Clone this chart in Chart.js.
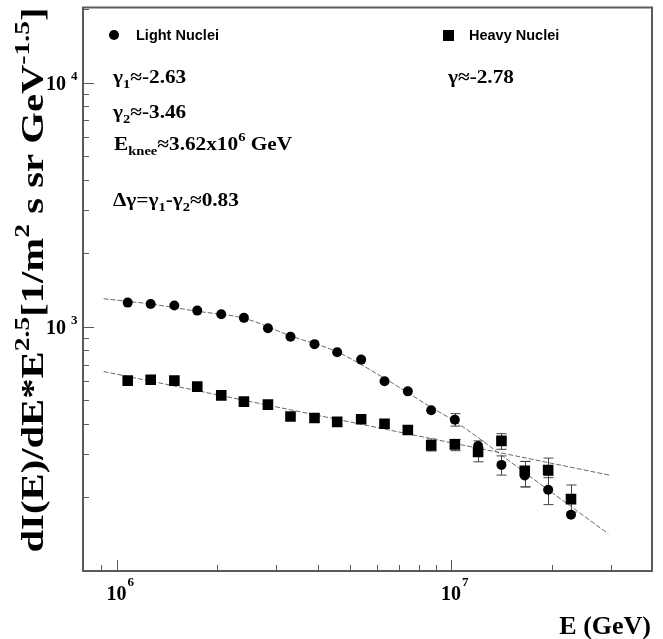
<!DOCTYPE html>
<html>
<head>
<meta charset="utf-8">
<script src="https://cdn.jsdelivr.net/npm/chart.js"></script>
<style>
  body { margin: 0; background: #fff; }
  #wrap { width: 663px; height: 639px; }
</style>
</head>
<body>
<div id="wrap"><canvas id="myChart"></canvas></div>
<script>
// ---- data ----
var energy = [1.08e6, 1.265e6, 1.489e6, 1.743e6, 2.056e6, 2.403e6, 2.835e6, 3.311e6, 3.906e6, 4.566e6,
              5.385e6, 6.324e6, 7.424e6, 8.72e6, 1.026e7, 1.204e7, 1.414e7, 1.66e7, 1.95e7, 2.282e7];
var lightFlux = [1256, 1240, 1223, 1165, 1126, 1088, 986, 911, 849, 786,
                 734, 598, 544, 455, 416, 325, 272, 246, 215, 170];
var heavyFlux = [602, 607, 602, 569, 524, 494, 480, 429, 423, 408,
                 418, 401, 378, 327, 330, 307, 341, 257, 259, 197];
var lightErrLo = [null, null, null, null, null, null, null, null, null, null, null, null, null, null, 392, null, 247, 221, 187, null];
var lightErrHi = [null, null, null, null, null, null, null, null, null, null, null, null, null, null, 441, null, 296, 281, 246, null];
var heavyErrLo = [null, null, null, null, null, null, null, null, null, null, null, null, null, 310, 311, 280, 315, 221, 241, 174];
var heavyErrHi = [null, null, null, null, null, null, null, null, null, null, null, null, null, 347, 346, 341, 365, 281, 290, 225];

// fitted curves
var lightFitE = [9.15e5, 1.262e6, 1.743e6, 2.408e6, 3.304e6, 4.575e6, 6.322e6, 8.697e6, 1.023e7, 1.734e7, 2.95e7];
var lightFitFlux = [1303, 1240, 1158, 1083, 919, 788, 615, 469, 411, 242, 142];
var heavyFitE = [9.15e5, 2.97e7];
var heavyFitFlux = [656, 247];

// axes
var xRange = [7.94e5, 3.985e7];
var yRange = [100, 2.03e4];
var xMajor = [1e6, 1e7];
var xMajorExp = ['6', '7'];
var xMinor = [9e5, 2e6, 3e6, 4e6, 5e6, 6e6, 7e6, 8e6, 9e6, 2e7, 3e7];
var yMajor = [1e3, 1e4];
var yMajorExp = ['3', '4'];
var yMinor = [200, 300, 400, 500, 600, 700, 800, 900, 2000, 3000, 4000, 5000, 6000, 7000, 8000, 9000, 20000];

var serif = '"Liberation Serif", "Times New Roman", serif';
var sans = '"Liberation Sans", Arial, sans-serif';
var axisColor = '#5a5a5a';

function pts(xs, ys) {
  return xs.map(function(x, i) { return { x: x, y: ys[i] }; });
}

// text with super/subscripts: parts = [[text, 'sup'|'sub'|null], ...]
function drawRich(ctx, parts, x, y, size, measureOnly) {
  var start = x;
  parts.forEach(function(p) {
    var fs = p[1] ? Math.round(size * 0.68) : size;
    var dy = p[1] === 'sup' ? -size * 0.45 : (p[1] === 'sub' ? size * 0.28 : 0);
    ctx.font = 'bold ' + fs + 'px ' + serif;
    if (!measureOnly) ctx.fillText(p[0], x, y + dy);
    x += ctx.measureText(p[0]).width;
  });
  return x - start;
}

// same, stretched along the text direction
function drawNote(ctx, parts, x, y, size, stretch) {
  ctx.save();
  ctx.translate(x, y);
  ctx.scale(stretch, 1);
  drawRich(ctx, parts, 0, 0, size);
  ctx.restore();
}

var overlay = {
  id: 'overlay',
  beforeDatasetsDraw: function(chart) {
    var ctx = chart.ctx, xs = chart.scales.x, ys = chart.scales.y;
    ctx.save();
    ctx.strokeStyle = '#444';
    ctx.lineWidth = 1;
    function bars(lo, hi) {
      energy.forEach(function(e, i) {
        if (lo[i] == null) return;
        var px = Math.round(xs.getPixelForValue(e)) + 0.5;
        var y1 = ys.getPixelForValue(lo[i]), y2 = ys.getPixelForValue(hi[i]);
        ctx.beginPath();
        ctx.moveTo(px, y1); ctx.lineTo(px, y2);
        ctx.moveTo(px - 5, y1); ctx.lineTo(px + 5, y1);
        ctx.moveTo(px - 5, y2); ctx.lineTo(px + 5, y2);
        ctx.stroke();
      });
    }
    bars(lightErrLo, lightErrHi);
    bars(heavyErrLo, heavyErrHi);
    ctx.restore();
  },
  afterDraw: function(chart) {
    var ctx = chart.ctx, a = chart.chartArea;
    var xs = chart.scales.x, ys = chart.scales.y;
    ctx.save();

    // frame
    ctx.strokeStyle = axisColor;
    ctx.lineWidth = 2;
    ctx.strokeRect(a.left, a.top, a.right - a.left, a.bottom - a.top);

    // ticks
    ctx.lineWidth = 1;
    ctx.beginPath();
    xMajor.forEach(function(v) {
      var px = Math.round(xs.getPixelForValue(v)) + 0.5;
      ctx.moveTo(px, a.bottom); ctx.lineTo(px, a.bottom - 11);
    });
    xMinor.forEach(function(v) {
      var px = Math.round(xs.getPixelForValue(v)) + 0.5;
      ctx.moveTo(px, a.bottom); ctx.lineTo(px, a.bottom - 6);
    });
    yMajor.forEach(function(v) {
      var py = Math.round(ys.getPixelForValue(v)) + 0.5;
      ctx.moveTo(a.left, py); ctx.lineTo(a.left + 11, py);
    });
    yMinor.forEach(function(v) {
      var py = Math.round(ys.getPixelForValue(v)) + 0.5;
      if (py < a.top + 2) return;
      ctx.moveTo(a.left, py); ctx.lineTo(a.left + 6, py);
    });
    ctx.stroke();

    // tick labels
    ctx.fillStyle = '#000';
    ctx.textBaseline = 'alphabetic';
    xMajor.forEach(function(v, i) {
      var px = xs.getPixelForValue(v);
      ctx.font = 'bold 20px ' + serif;
      ctx.textAlign = 'center';
      ctx.fillText('10', px, 600);
      ctx.font = 'bold 13px ' + serif;
      ctx.textAlign = 'left';
      ctx.fillText(xMajorExp[i], px + 11, 586);
    });
    yMajor.forEach(function(v, i) {
      var py = ys.getPixelForValue(v);
      ctx.font = 'bold 20px ' + serif;
      ctx.textAlign = 'right';
      ctx.fillText('10', 66, py + 7);
      ctx.font = 'bold 13px ' + serif;
      ctx.textAlign = 'left';
      ctx.fillText(yMajorExp[i], 71, py - 3);
    });

    // axis titles
    ctx.font = 'bold 26px ' + serif;
    ctx.textAlign = 'right';
    ctx.fillText('E (GeV)', 651, 634);

    var yTitle = [['dI(E)/dE*E', null], ['2.5', 'sup'], ['[1/m', null], ['2', 'sup'],
                  [' s sr GeV', null], ['-1.5', 'sup'], [']', null]];
    ctx.textAlign = 'left';
    var tSize = 31;
    var w = drawRich(ctx, yTitle, 0, 0, tSize, true);
    var stretch = 545 / w;
    ctx.save();
    ctx.translate(43, 280);
    ctx.rotate(-Math.PI / 2);
    ctx.scale(stretch, 1);
    drawRich(ctx, yTitle, -w / 2, 0, tSize);
    ctx.restore();

    // legend
    ctx.fillStyle = '#000';
    ctx.beginPath();
    ctx.arc(114, 35, 5, 0, Math.PI * 2);
    ctx.fill();
    ctx.fillRect(443, 30, 11, 11);
    ctx.font = 'bold 14.5px ' + sans;
    ctx.fillText('Light Nuclei', 136, 40);
    ctx.fillText('Heavy Nuclei', 469, 40);

    // fit results
    var fs = 19, st = 1.12;
    drawNote(ctx, [['\u03b3', null], ['1', 'sub'], ['\u2248-2.63', null]], 113, 83, fs, st);
    drawNote(ctx, [['\u03b3', null], ['2', 'sub'], ['\u2248-3.46', null]], 113, 118, fs, st);
    drawNote(ctx, [['E', null], ['knee', 'sub'], ['\u22483.62x10', null], ['6', 'sup'], [' GeV', null]], 114, 150, fs, st);
    drawNote(ctx, [['\u0394\u03b3=\u03b3', null], ['1', 'sub'], ['-\u03b3', null], ['2', 'sub'], ['\u22480.83', null]], 113, 206, fs, st);
    drawNote(ctx, [['\u03b3\u2248-2.78', null]], 448, 83, fs, st);

    ctx.restore();
  }
};

var ctx = document.getElementById('myChart').getContext('2d');
new Chart(ctx, {
  type: 'scatter',
  data: {
    datasets: [
      { label: 'Light Nuclei', data: pts(energy, lightFlux), pointStyle: 'circle', pointRadius: 5,
        backgroundColor: '#000', borderColor: '#000', borderWidth: 0, order: 0 },
      { label: 'Heavy Nuclei', data: pts(energy, heavyFlux), pointStyle: 'rect', pointRadius: 7.5,
        backgroundColor: '#000', borderColor: '#000', borderWidth: 0, order: 0 },
      { label: 'light fit', data: pts(lightFitE, lightFitFlux), showLine: true, pointRadius: 0,
        borderColor: '#6a6a6a', borderWidth: 1, borderDash: [5, 2], cubicInterpolationMode: 'monotone', order: 1 },
      { label: 'heavy fit', data: pts(heavyFitE, heavyFitFlux), showLine: true, pointRadius: 0,
        borderColor: '#6a6a6a', borderWidth: 1, borderDash: [5, 2], order: 1 }
    ]
  },
  options: {
    responsive: true,
    maintainAspectRatio: false,
    animation: false,
    layout: { padding: { left: 83, right: 11, top: 3, bottom: 68 } },
    plugins: { legend: { display: false }, tooltip: { enabled: false } },
    scales: {
      x: { type: 'logarithmic', min: xRange[0], max: xRange[1], display: false },
      y: { type: 'logarithmic', min: yRange[0], max: yRange[1], display: false }
    }
  },
  plugins: [overlay]
});
</script>
</body>
</html>
